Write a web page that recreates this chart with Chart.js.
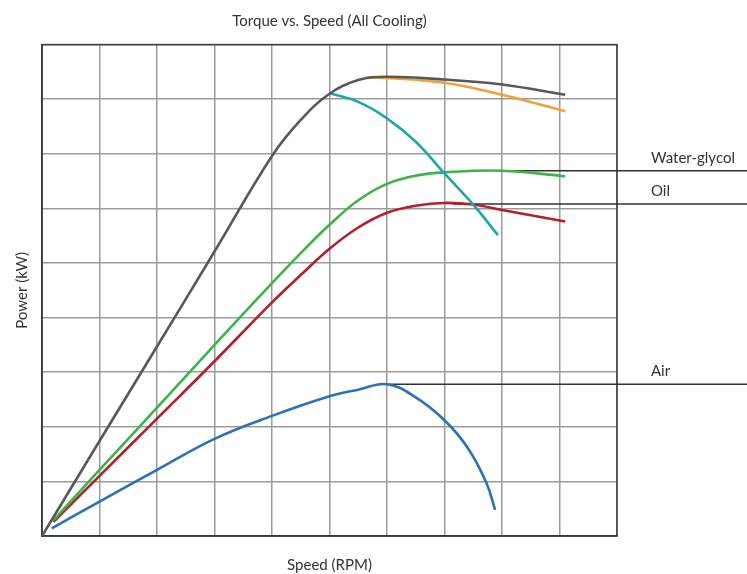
<!DOCTYPE html>
<html>
<head>
<meta charset="utf-8">
<title>Torque vs. Speed (All Cooling)</title>
<script src="https://cdn.jsdelivr.net/npm/chart.js@4.4.1/dist/chart.umd.min.js"></script>
<style>
    html, body { margin: 0; padding: 0; background: #fff; }
    #wrap { width: 747px; height: 574px; }
</style>
</head>
<body>
<div id="wrap"><canvas id="torqueChart"></canvas></div>
<script>
// Values, in grid units (10 columns of speed, 9 rows of power)
const graySpeed = [0, 1, 2, 3, 4, 4.5, 5, 5.5, 6, 7, 8, 9.1];
const grayPower = [0, 1.74, 3.47, 5.21, 6.96, 7.62, 8.1, 8.35, 8.41, 8.36, 8.27, 8.08];

const orangeSpeed = [5.65, 6, 7, 8, 9.1];
const orangePower = [8.4, 8.39, 8.3, 8.08, 7.78];

const tealSpeed = [5, 5.5, 6, 6.5, 7, 7.5, 7.93];
const tealPower = [8.11, 7.95, 7.65, 7.22, 6.64, 6.07, 5.51];

const waterSpeed = [0.2, 1, 2, 3, 4, 4.5, 5, 5.5, 6, 6.5, 7, 8, 9.1];
const waterPower = [0.29, 1.21, 2.35, 3.5, 4.63, 5.18, 5.7, 6.15, 6.45, 6.6, 6.66, 6.69, 6.59];

const oilSpeed = [0.2, 1, 2, 3, 4, 4.5, 5, 5.5, 6, 6.5, 7, 7.5, 8, 9.1];
const oilPower = [0.26, 1.1, 2.15, 3.2, 4.28, 4.78, 5.26, 5.65, 5.92, 6.05, 6.1, 6.07, 5.97, 5.76];

const airSpeed = [0.17, 1, 2, 3, 4, 5, 5.5, 6, 6.5, 7, 7.4, 7.73, 7.88];
const airPower = [0.14, 0.63, 1.21, 1.78, 2.2, 2.56, 2.68, 2.78, 2.54, 2.12, 1.62, 0.97, 0.48];

// Callout lines running out to the right-hand labels
const calloutNames = ["Water-glycol", "Oil", "Air"];
const calloutStart = [8.08, 7.15, 6.0];
const calloutPower = [6.69, 6.08, 2.78];
const calloutEnd = 12.5;

const toPoints = (xs, ys) => xs.map((x, i) => ({ x: x, y: ys[i] }));

function curve(xs, ys, color) {
    return {
        data: toPoints(xs, ys),
        borderColor: color,
        borderWidth: 2.6,
        tension: 0.4,
        pointRadius: 0
    };
}

const datasets = [
    curve(graySpeed, grayPower, "#58585a"),
    curve(orangeSpeed, orangePower, "#f0a23a"),
    curve(tealSpeed, tealPower, "#1aa9a8"),
    curve(waterSpeed, waterPower, "#3cb44b"),
    curve(oilSpeed, oilPower, "#b3202d"),
    curve(airSpeed, airPower, "#2a72b6")
];

calloutNames.forEach((name, i) => {
    datasets.push({
        label: name,
        data: [{ x: calloutStart[i], y: calloutPower[i] }, { x: calloutEnd, y: calloutPower[i] }],
        borderColor: "#333333",
        borderWidth: 1.5,
        pointRadius: 0,
        clip: false
    });
});

// Dark box round the plot area (Chart.js only draws the two axis borders)
const frame = {
    id: "frame",
    beforeDatasetsDraw(chart) {
        const { ctx, chartArea: a } = chart;
        ctx.save();
        ctx.strokeStyle = "#3a3a3a";
        ctx.lineWidth = 1.5;
        ctx.strokeRect(a.left, a.top, a.right - a.left, a.bottom - a.top);
        ctx.restore();
    }
};

const calloutLabels = {
    id: "calloutLabels",
    afterDatasetsDraw(chart) {
        const { ctx, scales } = chart;
        const x = scales.x.getPixelForValue(10) + 34;
        ctx.save();
        ctx.font = "15px Lato";
        ctx.fillStyle = "#333333";
        ctx.textAlign = "left";
        ctx.textBaseline = "alphabetic";
        calloutNames.forEach((name, i) => {
            ctx.fillText(name, x, scales.y.getPixelForValue(calloutPower[i]) - 8);
        });
        ctx.restore();
    }
};

Chart.defaults.font.family = "Lato";
Chart.defaults.color = "#333333";

const ctx = document.getElementById("torqueChart").getContext("2d");
const torqueChart = new Chart(ctx, {
    type: "line",
    data: { datasets: datasets },
    options: {
        responsive: true,
        maintainAspectRatio: false,
        animation: false,
        layout: { padding: { left: 0, right: 130, top: 0, bottom: 0 } },
        plugins: {
            legend: { display: false },
            tooltip: { enabled: false },
            title: {
                display: true,
                text: "Torque vs. Speed (All Cooling)",
                fullSize: false,
                font: { size: 15, weight: "normal" },
                padding: { top: 12, bottom: 14.6 }
            }
        },
        scales: {
            x: {
                type: "linear",
                min: 0,
                max: 10,
                ticks: { display: false, stepSize: 1 },
                grid: { color: "#9b9b9b", lineWidth: 1.5, drawTicks: false },
                border: { color: "#3a3a3a", width: 1.5 },
                title: {
                    display: true,
                    text: "Speed (RPM)",
                    font: { size: 15 },
                    padding: { top: 20, bottom: 0 }
                }
            },
            y: {
                type: "linear",
                min: 0,
                max: 9,
                ticks: { display: false, stepSize: 1 },
                grid: { color: "#9b9b9b", lineWidth: 1.5, drawTicks: false },
                border: { color: "#3a3a3a", width: 1.5 },
                title: {
                    display: true,
                    text: "Power (kW)",
                    font: { size: 15 },
                    padding: { top: 13, bottom: 11 }
                }
            }
        }
    },
    plugins: [frame, calloutLabels]
});
</script>
</body>
</html>
